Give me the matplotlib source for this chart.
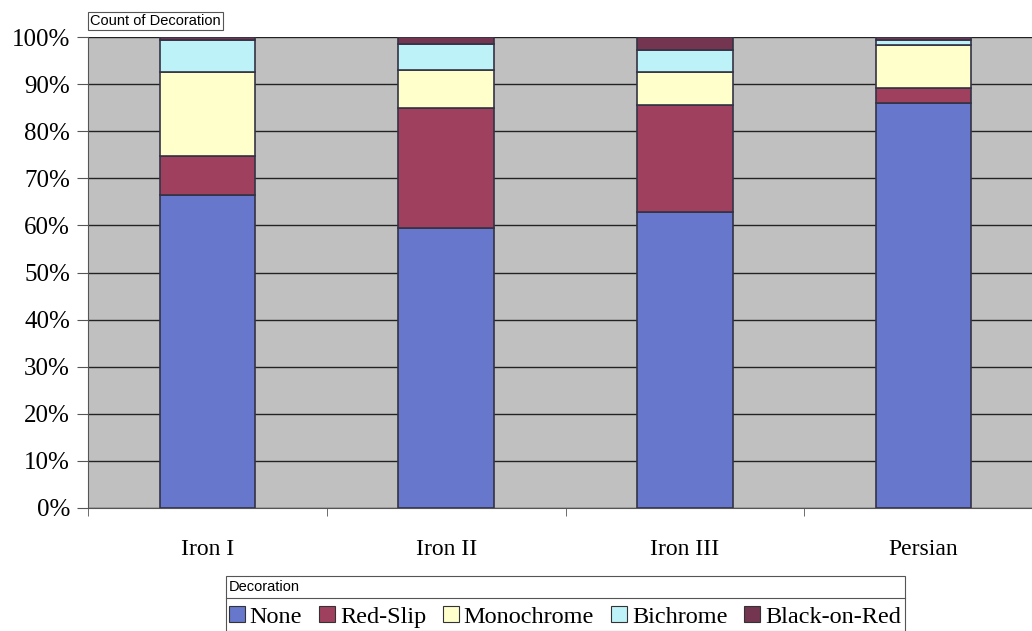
import numpy as np
import matplotlib.pyplot as plt
from matplotlib.patches import Rectangle
from matplotlib.lines import Line2D

# 数据 (百分比)
periods = ['Iron I', 'Iron II', 'Iron III', 'Persian']
none = [66.5, 59.4, 62.8, 85.9]
red_slip = [8.2, 25.5, 22.8, 3.2]
monochrome = [17.9, 8.0, 6.9, 9.2]
bichrome = [6.8, 5.6, 4.7, 1.1]
black_on_red = [0.6, 1.5, 2.8, 0.6]

series = [none, red_slip, monochrome, bichrome, black_on_red]
names = ['None', 'Red-Slip', 'Monochrome', 'Bichrome', 'Black-on-Red']
colors = ['#6677CC', '#A0405F', '#FFFFCC', '#BDF2F8', '#733550']

plt.rcParams['font.family'] = ['Liberation Serif', 'DejaVu Serif']

fig = plt.figure(figsize=(10.32, 6.31), dpi=100)
# 绘图区向右延伸出画布
ax = fig.add_axes([88 / 1032, 1 - 508 / 631, 955 / 1032, 471 / 631])
ax.set_facecolor('#C0C0C0')

x = np.arange(len(periods))
bottom = np.zeros(len(periods))
for vals, c in zip(series, colors):
    ax.bar(x, vals, width=0.4, bottom=bottom, color=c, edgecolor='#333344', linewidth=1.2, zorder=3)
    bottom += np.array(vals)

ax.set_xlim(-0.5, len(periods) - 0.5)
ax.set_ylim(0, 100)
ax.set_yticks(np.arange(0, 101, 10))
ax.set_yticklabels([f'{v}%' for v in range(0, 101, 10)], fontsize=18)
ax.yaxis.grid(True, color='#222222', linewidth=1, zorder=1)
ax.set_xticks(x)
ax.set_xticklabels(periods, fontsize=17)
ax.tick_params(axis='x', length=0, pad=22)
ax.tick_params(axis='y', length=8, color='#555555', pad=5)
# 类别之间的刻度线
ax.set_xticks(np.arange(-0.5, len(periods), 1), minor=True)
ax.tick_params(axis='x', which='minor', length=6, color='#555555')

for s in ['top', 'right']:
    ax.spines[s].set_visible(False)
ax.spines['left'].set_color('#555555')
ax.spines['bottom'].set_color('#555555')

# 左上角字段按钮
fig.text(90 / 1032, 1 - 21 / 631, 'Count of Decoration', fontsize=10.5, family='Liberation Sans',
         va='center', ha='left',
         bbox=dict(boxstyle='square,pad=0.15', facecolor='white', edgecolor='#555555', linewidth=0.8))

# 图例框
fig.patches.append(Rectangle((226 / 1032, 0), (905 - 226) / 1032, (631 - 576) / 631,
                             transform=fig.transFigure, facecolor='white', edgecolor='#555555',
                             linewidth=0.8))
fig.add_artist(Line2D([226 / 1032, 905 / 1032], [1 - 598 / 631, 1 - 598 / 631],
                      transform=fig.transFigure, color='#555555', linewidth=0.8))
fig.text(229 / 1032, 1 - 587 / 631, 'Decoration', fontsize=10.5, family='Liberation Sans',
         va='center', ha='left')

handles = [Rectangle((0, 0), 1, 1, facecolor=c, edgecolor='#333333', linewidth=0.8) for c in colors]
leg = fig.legend(handles, names, ncol=5, loc='center left', frameon=False,
                 bbox_to_anchor=(229 / 1032, 1 - 617 / 631),
                 prop={'family': 'Liberation Serif', 'size': 17.5},
                 handlelength=0.65, handleheight=0.65, handletextpad=0.2, columnspacing=0.7,
                 borderaxespad=0, borderpad=0)

fig.savefig('out.png', dpi=100)
